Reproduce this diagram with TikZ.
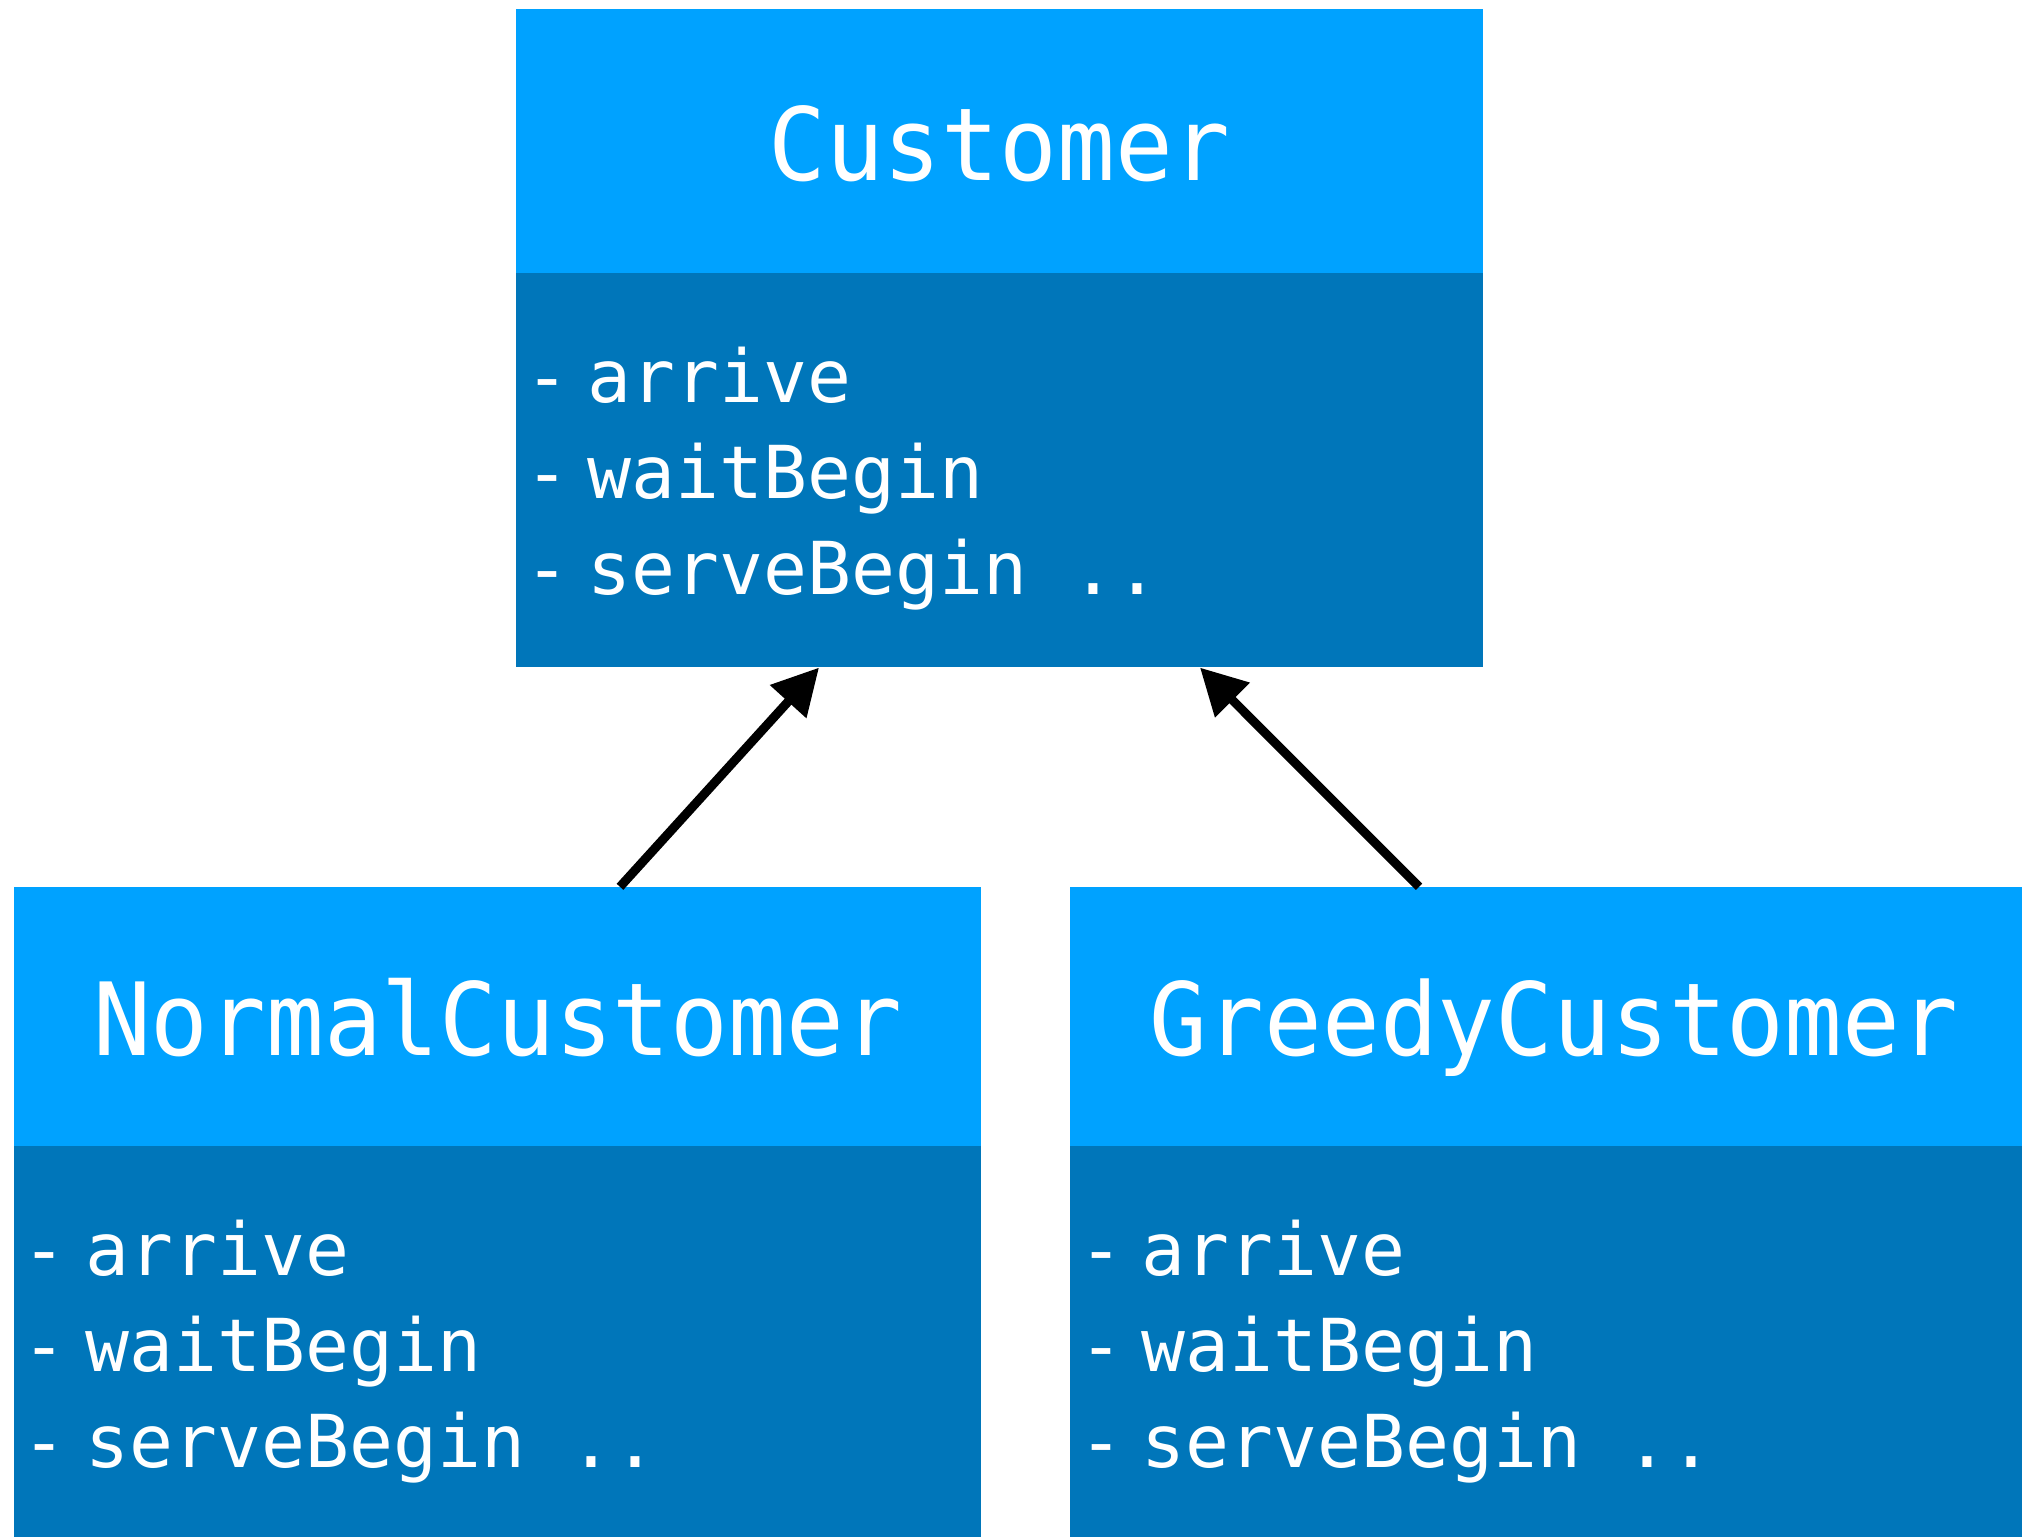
\documentclass[tikz,border=0pt]{standalone}
\usepackage{fontspec}
\usetikzlibrary{arrows.meta}
\newfontfamily\titlefont[FakeStretch=0.95]{DejaVu Sans Mono}
\newfontfamily\memberfont{DejaVu Sans Mono}
\definecolor{headblue}{RGB}{0,162,255}
\definecolor{bodyblue}{RGB}{0,118,186}
\tikzset{
  classhead/.style={fill=headblue, draw=none, inner sep=0pt,
    minimum width=967pt, text=white,
    font=\titlefont\fontsize{101}{121}\selectfont,
    text height=78pt, text depth=0pt},
  classbody/.style={fill=bodyblue, draw=none, inner sep=0pt,
    minimum width=967pt, minimum height=394pt},
  member/.style={anchor=base west, inner sep=0pt, text=white,
    font=\memberfont\fontsize{73}{96}\selectfont},
  inherit/.style={line width=9pt,
    -{Triangle[length=46pt,width=47pt]}}
}
\newcommand{\mline}[1]{-\kern19pt #1}
\begin{document}
\begin{tikzpicture}[x=1pt,y=-1pt]
  \useasboundingbox (0,0) rectangle (2022,1537);
  \fill[white] (0,0) rectangle (2022,1537);

  % base class
  \node[classhead, minimum height=264pt] (customer) at (999.5,141) {Customer};
  \node[classbody, anchor=north] (customerbody) at (customer.south) {};
  \node[member] (cm1) at ([xshift=9pt,yshift=-129pt]customerbody.north west) {\mline{arrive}};
  \node[member] (cm2) at ([xshift=9pt,yshift=-225pt]customerbody.north west) {\mline{waitBegin}};
  \node[member] (cm3) at ([xshift=9pt,yshift=-321pt]customerbody.north west) {\mline{serveBegin ..}};

  % first subclass
  \node[classhead, minimum height=259pt] (normal) at (497.5,1016.5) {NormalCustomer};
  \node[classbody, anchor=north] (normalbody) at (normal.south) {};
  \node[member] (nm1) at ([xshift=9pt,yshift=-129pt]normalbody.north west) {\mline{arrive}};
  \node[member] (nm2) at ([xshift=9pt,yshift=-225pt]normalbody.north west) {\mline{waitBegin}};
  \node[member] (nm3) at ([xshift=9pt,yshift=-321pt]normalbody.north west) {\mline{serveBegin ..}};

  % second subclass
  \node[classhead, minimum height=259pt] (greedy) at (1553.5,1016.5) {GreedyCustomer};
  \node[classbody, anchor=north] (greedybody) at (greedy.south) {};
  \node[member] (gm1) at ([xshift=9pt,yshift=-129pt]greedybody.north west) {\mline{arrive}};
  \node[member] (gm2) at ([xshift=9pt,yshift=-225pt]greedybody.north west) {\mline{waitBegin}};
  \node[member] (gm3) at ([xshift=9pt,yshift=-321pt]greedybody.north west) {\mline{serveBegin ..}};

  % inheritance arrows
  \draw[inherit] ([xshift=122.5pt]normal.north) -- ([xshift=-180.5pt]customerbody.south);
  \draw[inherit] ([xshift=-134.5pt]greedy.north) -- ([xshift=200.5pt]customerbody.south);
\end{tikzpicture}
\end{document}
